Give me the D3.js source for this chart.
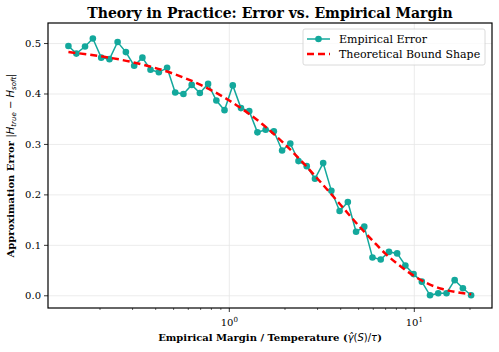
<!DOCTYPE html>
<html>
<head>
<meta charset="utf-8">
<script src="https://cdn.jsdelivr.net/npm/d3@7"></script>
<style>
  body { margin: 0; background: #fff; }
  svg { display: block; }
</style>
</head>
<body>
<svg id="chart" width="499" height="352"></svg>
<script>
// Empirical error points (x = margin / temperature, y = |H_true - H_soft|)
const empX = [0.135, 0.149, 0.166, 0.183, 0.203, 0.225, 0.249, 0.276, 0.306, 0.339,
  0.375, 0.416, 0.461, 0.510, 0.565, 0.626, 0.693, 0.768, 0.851, 0.942,
  1.044, 1.156, 1.281, 1.419, 1.572, 1.741, 1.929, 2.136, 2.366, 2.621,
  2.904, 3.217, 3.563, 3.947, 4.372, 4.843, 5.364, 5.942, 6.582, 7.292,
  8.077, 8.947, 9.911, 10.98, 12.16, 13.47, 14.93, 16.53, 18.31, 20.28];
const empY = [0.495, 0.480, 0.494, 0.510, 0.472, 0.469, 0.503, 0.483, 0.456, 0.472,
  0.448, 0.443, 0.452, 0.403, 0.400, 0.418, 0.402, 0.420, 0.387, 0.368,
  0.417, 0.372, 0.366, 0.324, 0.329, 0.326, 0.288, 0.302, 0.267, 0.257,
  0.232, 0.263, 0.208, 0.168, 0.186, 0.127, 0.137, 0.076, 0.072, 0.087,
  0.084, 0.060, 0.043, 0.028, 0.001, 0.005, 0.005, 0.031, 0.015, 0.001];

// Theoretical bound shape
const boundX = [0.135, 0.2, 0.3, 0.5, 0.7, 1.0, 1.5, 2, 2.5, 3, 4, 5, 6, 7, 8, 10, 12, 14, 17, 20.3];
const boundY = [0.483, 0.475, 0.463, 0.440, 0.418, 0.387, 0.341, 0.300, 0.264, 0.232,
  0.180, 0.139, 0.108, 0.083, 0.065, 0.039, 0.023, 0.014, 0.007, 0.003];

const yTicks = [0.0, 0.1, 0.2, 0.3, 0.4, 0.5];
const xMajor = [1, 10];
const xMinor = [0.2, 0.3, 0.4, 0.5, 0.6, 0.7, 0.8, 0.9, 2, 3, 4, 5, 6, 7, 8, 9, 20];

const TEAL = '#13a89c';
const RED = '#ff0000';
const SERIF = '"DejaVu Serif", serif';
const SANS = '"DejaVu Sans", sans-serif';

const M = { top: 23, right: 7, bottom: 44, left: 48 };
const W = 499 - M.left - M.right;
const H = 352 - M.top - M.bottom;

const svg = d3.select('#chart');
const g = svg.append('g').attr('transform', `translate(${M.left},${M.top})`);

const x = d3.scaleLog().domain([0.1047, 26.3]).range([0, W]);
const y = d3.scaleLinear().domain([-0.0242, 0.5407]).range([H, 0]);

// Grid
g.append('g').selectAll('line').data(yTicks).enter().append('line')
  .attr('x1', 0).attr('x2', W)
  .attr('y1', d => y(d)).attr('y2', d => y(d))
  .attr('stroke', '#e6e6e6').attr('stroke-width', 0.8);
g.append('g').selectAll('line').data(xMajor).enter().append('line')
  .attr('y1', 0).attr('y2', H)
  .attr('x1', d => x(d)).attr('x2', d => x(d))
  .attr('stroke', '#e6e6e6').attr('stroke-width', 0.8);

// Clip
svg.append('defs').append('clipPath').attr('id', 'clip')
  .append('rect').attr('width', W).attr('height', H);

const plot = g.append('g').attr('clip-path', 'url(#clip)');

const empData = empX.map((v, i) => ({ x: v, y: empY[i] }));
const boundData = boundX.map((v, i) => ({ x: v, y: boundY[i] }));

const line = d3.line().x(d => x(d.x)).y(d => y(d.y));

plot.append('path')
  .datum(empData)
  .attr('d', line)
  .attr('fill', 'none')
  .attr('stroke', TEAL)
  .attr('stroke-width', 1.5);

plot.selectAll('.pt').data(empData).enter().append('circle')
  .attr('class', 'pt')
  .attr('cx', d => x(d.x)).attr('cy', d => y(d.y))
  .attr('r', 3.3)
  .attr('fill', TEAL);

plot.append('path')
  .datum(boundData)
  .attr('d', line.curve(d3.curveMonotoneX))
  .attr('fill', 'none')
  .attr('stroke', RED)
  .attr('stroke-width', 2.5)
  .attr('stroke-dasharray', '7,4');

// Y axis ticks and labels
const yAx = g.append('g');
yTicks.forEach(t => {
  yAx.append('line').attr('x1', -4).attr('x2', 0).attr('y1', y(t)).attr('y2', y(t))
    .attr('stroke', '#000').attr('stroke-width', 0.8);
  yAx.append('text').attr('x', -7).attr('y', y(t)).attr('dy', '0.35em')
    .attr('text-anchor', 'end')
    .style('font-family', SERIF).style('font-size', '10px').style('fill', '#000')
    .text(t.toFixed(1));
});

// X axis ticks and labels
const xAx = g.append('g').attr('transform', `translate(0,${H})`);
xMinor.forEach(t => {
  xAx.append('line').attr('x1', x(t)).attr('x2', x(t)).attr('y1', 0).attr('y2', 2)
    .attr('stroke', '#000').attr('stroke-width', 0.6);
});
xMajor.forEach(t => {
  xAx.append('line').attr('x1', x(t)).attr('x2', x(t)).attr('y1', 0).attr('y2', 4)
    .attr('stroke', '#000').attr('stroke-width', 0.8);
  const lab = xAx.append('text').attr('x', x(t)).attr('y', 18)
    .attr('text-anchor', 'middle')
    .style('font-family', SERIF).style('font-size', '10px').style('fill', '#000');
  lab.append('tspan').text('10');
  lab.append('tspan').attr('dy', -4).style('font-size', '7px').text(Math.round(Math.log10(t)));
});

// Frame
g.append('rect').attr('width', W).attr('height', H)
  .attr('fill', 'none').attr('stroke', '#000').attr('stroke-width', 1.2);

// Title
svg.append('text')
  .attr('x', M.left + W / 2).attr('y', 18)
  .attr('text-anchor', 'middle')
  .style('font-family', SERIF).style('font-weight', 'bold').style('font-size', '14px')
  .text('Theory in Practice: Error vs. Empirical Margin');

// X label
const xl = svg.append('text')
  .attr('x', M.left + W / 2).attr('y', 341)
  .attr('text-anchor', 'middle')
  .style('font-family', SERIF).style('font-weight', 'bold').style('font-size', '10px');
xl.append('tspan').text('Empirical Margin / Temperature (');
xl.append('tspan').style('font-family', SANS).style('font-weight', 'normal').style('font-style', 'italic').text('γ\u0302');
xl.append('tspan').style('font-family', SANS).style('font-weight', 'normal').text('(');
xl.append('tspan').style('font-family', SANS).style('font-weight', 'normal').style('font-style', 'italic').text('S');
xl.append('tspan').style('font-family', SANS).style('font-weight', 'normal').text(')/');
xl.append('tspan').style('font-family', SANS).style('font-weight', 'normal').style('font-style', 'italic').text('τ');
xl.append('tspan').text(')');

// Y label
const yl = svg.append('text')
  .attr('transform', `translate(14,${M.top + H / 2}) rotate(-90)`)
  .attr('text-anchor', 'middle')
  .style('font-family', SERIF).style('font-weight', 'bold').style('font-size', '10px');
yl.append('tspan').text('Approximation Error ');
yl.append('tspan').style('font-family', SANS).style('font-weight', 'normal').text('|');
yl.append('tspan').style('font-family', SANS).style('font-weight', 'normal').style('font-style', 'italic').text('H');
yl.append('tspan').attr('dy', 2).style('font-family', SANS).style('font-weight', 'normal').style('font-style', 'italic').style('font-size', '7px').text('true');
yl.append('tspan').attr('dy', -2).style('font-family', SANS).style('font-weight', 'normal').text(' \u2212 ');
yl.append('tspan').style('font-family', SANS).style('font-weight', 'normal').style('font-style', 'italic').text('H');
yl.append('tspan').attr('dy', 2).style('font-family', SANS).style('font-weight', 'normal').style('font-style', 'italic').style('font-size', '7px').text('soft');
yl.append('tspan').attr('dy', -2).style('font-family', SANS).style('font-weight', 'normal').text('|');

// Legend
const lg = svg.append('g').attr('transform', 'translate(303,29)');
lg.append('rect').attr('width', 182).attr('height', 36).attr('rx', 2)
  .attr('fill', '#fff').attr('fill-opacity', 0.8)
  .attr('stroke', '#d0d0d0').attr('stroke-width', 0.8);
lg.append('line').attr('x1', 4).attr('x2', 27).attr('y1', 10).attr('y2', 10)
  .attr('stroke', TEAL).attr('stroke-width', 1.5);
lg.append('circle').attr('cx', 15.5).attr('cy', 10).attr('r', 3.3).attr('fill', TEAL);
lg.append('text').attr('x', 36).attr('y', 10).attr('dy', '0.35em')
  .style('font-family', SERIF).style('font-size', '11px').text('Empirical Error');
lg.append('line').attr('x1', 4).attr('x2', 27).attr('y1', 25).attr('y2', 25)
  .attr('stroke', RED).attr('stroke-width', 2.5).attr('stroke-dasharray', '7,4');
lg.append('text').attr('x', 36).attr('y', 25).attr('dy', '0.35em')
  .style('font-family', SERIF).style('font-size', '11px').text('Theoretical Bound Shape');
</script>
</body>
</html>
